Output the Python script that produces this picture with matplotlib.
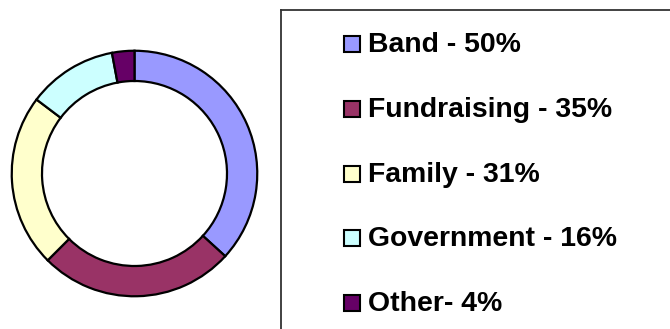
import matplotlib
matplotlib.use("Agg")
import matplotlib.pyplot as plt
from matplotlib.patches import Rectangle
from matplotlib.lines import Line2D

# Funding sources
categories = ["Band", "Fundraising", "Family", "Government", "Other"]
values = [50, 35, 31, 16, 4]
legend_labels = ["Band - 50%", "Fundraising - 35%", "Family - 31%",
                 "Government - 16%", "Other- 4%"]
colors = ["#9999FF", "#993366", "#FFFFCC", "#CCFFFF", "#660066"]

W, H = 670, 329
fig = plt.figure(figsize=(W / 100, H / 100), dpi=100)
fig.patch.set_facecolor("white")


def fx(px):
    return px / W


def fy(py_top):
    return (H - py_top) / H


# Donut chart
cx, cy, r = 134.5, 173.5, 123.5
ax = fig.add_axes([fx(cx - r), fy(cy + r), 2 * r / W, 2 * r / H])
ax.pie(values, colors=colors, startangle=90, counterclock=False,
       radius=0.994,
       wedgeprops=dict(width=0.245, edgecolor="black", linewidth=1.6))
ax.set_xlim(-1, 1)
ax.set_ylim(-1, 1)
ax.set_aspect("equal")
ax.axis("off")

# Legend frame (open on right and bottom)
frame_color = "#333333"
fig.add_artist(Line2D([fx(281), fx(W + 5)], [fy(10), fy(10)],
                      transform=fig.transFigure, color=frame_color, lw=1.3))
fig.add_artist(Line2D([fx(281), fx(281)], [fy(10), fy(H + 5)],
                      transform=fig.transFigure, color=frame_color, lw=1.3))

# Legend entries
baseline0, step = 51.7, 64.9
sq = 16
for i, (lab, col) in enumerate(zip(legend_labels, colors)):
    base = baseline0 + i * step
    fig.add_artist(Rectangle((fx(343.5), fy(base)), sq / W, sq / H,
                             transform=fig.transFigure, facecolor=col,
                             edgecolor="black", linewidth=1.5))
    fig.text(fx(367.5), fy(base), lab, transform=fig.transFigure,
             fontsize=20.4, fontweight="bold", family="Liberation Sans",
             ha="left", va="baseline", color="black")

fig.savefig("out.png", dpi=100)
